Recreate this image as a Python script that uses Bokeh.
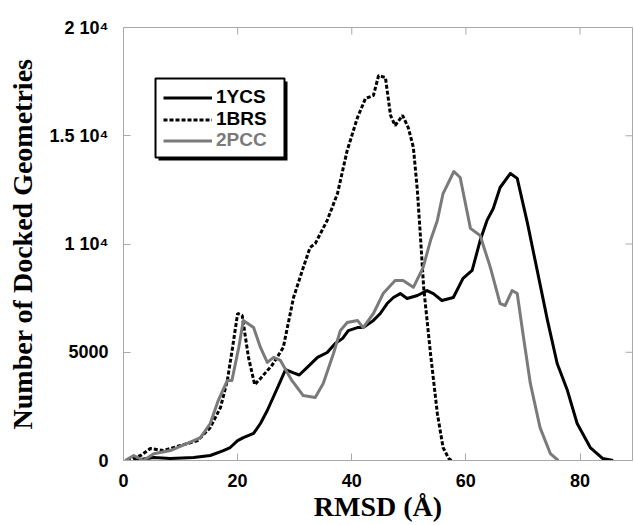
from bokeh.plotting import figure
from bokeh.models import Legend, LegendItem, FixedTicker, Range1d, BoxAnnotation
from bokeh.embed import file_html
from bokeh.resources import INLINE

# ---------------- data ----------------
x_1ycs = [1.8, 5.3, 8.2, 12.3, 15.2, 17.5, 18.7, 20.0, 21.0, 22.8, 24.0, 25.2, 27.0, 28.4,
          29.8, 30.8, 32.2, 34.0, 35.7, 37.1, 38.4, 39.4, 41.0, 42.0, 43.8, 45.0, 46.2, 47.3,
          48.5, 49.7, 51.5, 53.2, 54.3, 55.8, 57.8, 59.5, 61.1, 62.5, 63.7, 64.8, 66.0, 67.8,
          69.0, 70.8, 72.5, 74.3, 76.0, 77.8, 79.5, 81.8, 84.0, 85.8]
y_1ycs = [0, 140, 90, 140, 230, 460, 600, 920, 1060, 1250, 1710, 2310, 3370, 4200,
          4050, 3950, 4300, 4760, 4990, 5400, 5640, 6000, 6140, 6140, 6470, 6790, 7250, 7530,
          7710, 7480, 7620, 7850, 7710, 7390, 7530, 8410, 8780, 10160, 11090, 11640, 12610, 13260,
          13030, 10950, 8780, 6470, 4480, 3230, 1710, 600, 90, 0]

x_1brs = [0.6, 3.0, 4.7, 7.0, 10.0, 13.0, 15.2, 17.0, 18.2, 19.1, 20.0, 20.8, 21.9, 23.0,
          24.0, 26.0, 28.0, 29.8, 31.5, 32.7, 33.6, 35.7, 37.5, 39.2, 41.0, 42.4, 43.8, 44.7,
          45.9, 46.8, 47.6, 48.9, 49.9, 50.8, 51.5, 52.0, 52.6, 53.8, 55.0, 56.0, 57.0, 57.5]
y_1brs = [0, 230, 550, 460, 690, 920, 1520, 2450, 3700, 5200, 6790, 6700, 4760, 3500,
          3790, 4390, 5220, 7530, 8910, 9840, 10020, 11090, 12330, 14320, 15840, 16720, 16860, 17780,
          17690, 15940, 15470, 15940, 15380, 14460, 12470, 10500, 8000, 4940, 2170, 600, 90, 0]

x_2pcc = [0.3, 1.8, 3.5, 5.3, 8.2, 11.2, 13.5, 15.2, 16.6, 18.2, 19.0, 20.2, 21.0, 22.8,
          24.0, 25.2, 26.3, 27.5, 29.5, 31.5, 33.6, 35.0, 36.8, 38.0, 39.2, 41.0, 42.0, 43.8,
          45.5, 47.6, 49.0, 50.8, 52.5, 53.8, 55.0, 56.0, 57.9, 59.0, 60.8, 62.5, 64.3, 66.0,
          66.9, 68.1, 69.0, 70.0, 71.3, 73.0, 74.8, 76.2]
y_2pcc = [0, 230, 0, 310, 460, 790, 1060, 1710, 2770, 3700, 3700, 5220, 6470, 6140,
          5220, 4530, 4760, 4620, 3700, 3000, 2910, 3560, 4940, 6000, 6370, 6470, 6140, 6790,
          7710, 8310, 8310, 8000, 8910, 10160, 11090, 12330, 13350, 13070, 10720, 10390, 8910, 7250,
          7160, 7850, 7710, 5870, 3560, 1520, 320, 0]

series_names = ["1YCS", "1BRS", "2PCC"]
x_ticks = [0, 20, 40, 60, 80]
y_ticks = [0, 5000, 10000, 15000, 20000]
y_tick_labels = ["0", "5000", "1 10\u2074", "1.5 10\u2074", "2 10\u2074"]

# ---------------- layout / styling ----------------
FRAME = "#a8a8a8"
GRAY = "#7a7a7a"
SANS = "Liberation Sans"
SERIF = "Liberation Serif"

W, H = 634, 525
B_LEFT, B_TOP, B_RIGHT, B_BOTTOM = 123, 27, 2, 65
X_END, Y_END = 89.2, 20000
frame_w = W - B_LEFT - B_RIGHT
frame_h = H - B_TOP - B_BOTTOM
xpx = X_END / frame_w   # data units per pixel
ypx = Y_END / frame_h

p = figure(width=W, height=H, output_backend="svg", toolbar_location=None,
           x_range=Range1d(0, X_END), y_range=Range1d(0, Y_END),
           min_border_left=B_LEFT, min_border_right=B_RIGHT,
           min_border_top=B_TOP, min_border_bottom=B_BOTTOM)
p.background_fill_color = "white"
p.border_fill_color = "white"
p.outline_line_color = FRAME
p.outline_line_width = 1
p.xgrid.visible = False
p.ygrid.visible = False

# mirrored inward ticks on the top and right frame edges
TICK = 7
p.segment(x0=x_ticks[1:], x1=x_ticks[1:], y0=[Y_END] * 4, y1=[Y_END - TICK * ypx] * 4,
          line_color=FRAME, line_width=1)
p.segment(x0=[X_END] * 4, x1=[X_END - TICK * xpx] * 4, y0=y_ticks[1:], y1=y_ticks[1:],
          line_color=FRAME, line_width=1)

r1 = p.line(x_1ycs, y_1ycs, line_color="black", line_width=3, line_join="round")
r2 = p.line(x_1brs, y_1brs, line_color="black", line_width=3, line_dash="4 2")
r3 = p.line(x_2pcc, y_2pcc, line_color=GRAY, line_width=3, line_join="round")

xa = p.xaxis[0]
xa.ticker = FixedTicker(ticks=x_ticks)
xa.axis_label = "RMSD (\u00c5)"
ya = p.yaxis[0]
ya.ticker = FixedTicker(ticks=y_ticks)
ya.major_label_overrides = {t: s for t, s in zip(y_ticks, y_tick_labels)}
ya.axis_label = "Number of Docked Geometries"

for ax in (xa, ya):
    ax.axis_line_color = FRAME
    ax.major_tick_line_color = FRAME
    ax.major_tick_in = TICK
    ax.major_tick_out = 0
    ax.minor_tick_line_color = None
    ax.major_label_text_font = SANS
    ax.major_label_text_font_style = "bold"
    ax.major_label_text_font_size = "18px"
    ax.major_label_text_color = "black"
    ax.axis_label_text_font = SERIF
    ax.axis_label_text_font_style = "bold"
    ax.axis_label_text_font_size = "28px"
    ax.axis_label_text_color = "black"

xa.major_label_standoff = 13
xa.axis_label_standoff = 1
ya.major_label_standoff = 15
ya.axis_label_standoff = 9

# ---------------- legend box with drop shadow ----------------
# box edges as pixel offsets from the frame's bottom-left corner
BOX_L, BOX_R, BOX_B, BOX_T = 32, 161, 303, 382
SHADOW = 3
p.add_layout(BoxAnnotation(left=(BOX_L + SHADOW) * xpx, right=(BOX_R + SHADOW) * xpx,
                           bottom=(BOX_B - SHADOW) * ypx, top=(BOX_T - SHADOW) * ypx,
                           fill_color="black", fill_alpha=1, line_color=None))
p.add_layout(BoxAnnotation(left=BOX_L * xpx, right=BOX_R * xpx,
                           bottom=BOX_B * ypx, top=BOX_T * ypx,
                           fill_color="white", fill_alpha=1,
                           line_color="black", line_width=2, line_alpha=1))

ROW = 21
common = dict(glyph_width=49, glyph_height=ROW, label_height=ROW, label_standoff=4,
              spacing=0, margin=0, padding=0, label_width=50,
              background_fill_alpha=0, border_line_color=None,
              label_text_font=SANS, label_text_font_style="bold", label_text_font_size="19px")
leg_black = Legend(items=[LegendItem(label=series_names[0], renderers=[r1]),
                          LegendItem(label=series_names[1], renderers=[r2])],
                   location=(40, 330), label_text_color="black", **common)
leg_gray = Legend(items=[LegendItem(label=series_names[2], renderers=[r3])],
                  location=(40, 309), label_text_color=GRAY, **common)
p.add_layout(leg_black, "center")
p.add_layout(leg_gray, "center")

open("out.html", "w").write(file_html(p, INLINE))
